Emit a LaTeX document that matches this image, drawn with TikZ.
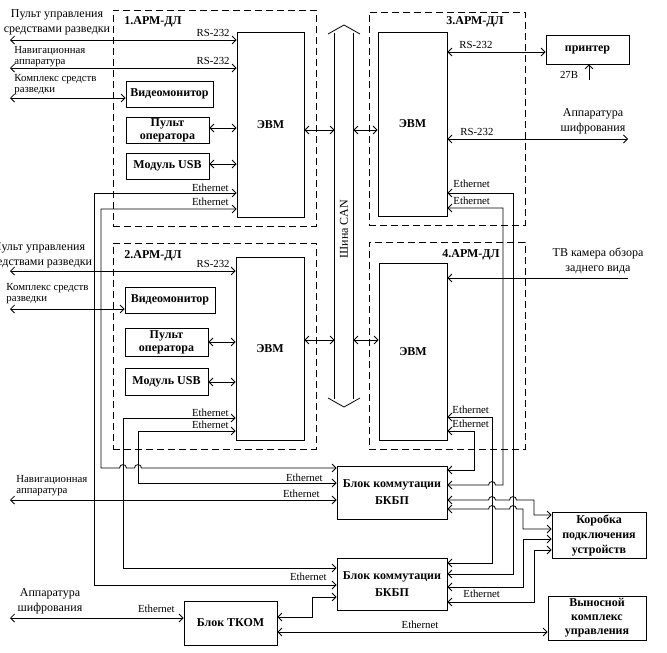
\documentclass[tikz,border=0pt]{standalone}
\usepackage{fontspec}
\setmainfont{Liberation Serif}
\usetikzlibrary{arrows.meta}
\begin{document}
\begin{tikzpicture}[x=1pt,y=-1pt, line width=0.8pt,
  >={Straight Barb[length=4pt,width=8pt]},
  bx/.style={draw, inner sep=0pt, align=center, font=\fontsize{12}{14}\selectfont\bfseries},
  arm/.style={draw, dash pattern=on 7pt off 4pt, inner sep=0pt},
  sm/.style={inner sep=0pt, align=left, font=\fontsize{10.8}{11}\selectfont},
  big/.style={inner sep=0pt, align=center, font=\fontsize{12}{15}\selectfont},
  ttl/.style={inner sep=0pt, font=\fontsize{12}{14}\selectfont\bfseries},
  lk/.style={<->}]
\useasboundingbox (0,0) rectangle (667,653);

% dashed workstation frames
\node[arm, minimum width=203pt, minimum height=216pt] (arm1) at (214.5,118) {};
\node[arm, minimum width=156pt, minimum height=213pt] (arm3) at (447,118.5) {};
\node[arm, minimum width=203pt, minimum height=206pt] (arm2) at (214.5,346) {};
\node[arm, minimum width=156pt, minimum height=207pt] (arm4) at (447,345.5) {};

\node[ttl] (t1) at (153,22) {1.АРМ-ДЛ};
\node[ttl] (t2) at (153,256) {2.АРМ-ДЛ};
\node[ttl] (t3) at (475,22) {3.АРМ-ДЛ};
\node[ttl] (t4) at (471,255) {4.АРМ-ДЛ};

% computers
\node[bx, minimum width=67pt, minimum height=185pt] (evm1) at (270.5,124.5) {ЭВМ};
\node[bx, minimum width=69pt, minimum height=184pt] (evm3) at (412.5,124) {ЭВМ};
\node[bx, minimum width=68pt, minimum height=183pt] (evm2) at (270,348.5) {ЭВМ};
\node[bx, minimum width=68pt, minimum height=177pt] (evm4) at (413,351.5) {ЭВМ};

% peripherals
\node[bx, minimum width=87pt, minimum height=26pt] (vm1) at (169.5,94) {Видеомонитор};
\node[bx, minimum width=83pt, minimum height=26pt, font=\fontsize{12}{13}\selectfont\bfseries] (po1) at (167.5,130) {Пульт\\оператора};
\node[bx, minimum width=83pt, minimum height=26pt] (usb1) at (167.5,166) {Модуль USB};
\node[bx, minimum width=90pt, minimum height=26pt] (vm2) at (170,300) {Видеомонитор};
\node[bx, minimum width=83pt, minimum height=28pt, font=\fontsize{12}{13}\selectfont\bfseries] (po2) at (166.5,342) {Пульт\\оператора};
\node[bx, minimum width=83pt, minimum height=27pt] (usb2) at (166.5,381.5) {Модуль USB};
\node[bx, minimum width=83pt, minimum height=29pt] (printer) at (587.5,49.5) {принтер};

\node[bx, minimum width=110pt, minimum height=53pt, font=\fontsize{12}{17}\selectfont\bfseries] (bk1) at (392,492.5) {Блок коммутации\\БКБП};
\node[bx, minimum width=110pt, minimum height=52pt, font=\fontsize{12}{17}\selectfont\bfseries] (bk2) at (392,584) {Блок коммутации\\БКБП};
\node[bx, minimum width=94pt, minimum height=46pt, font=\fontsize{12}{15}\selectfont\bfseries] (korobka) at (599,535) {Коробка\\подключения\\устройств};
\node[bx, minimum width=98pt, minimum height=44pt, font=\fontsize{12}{14}\selectfont\bfseries] (vynos) at (597,618) {Выносной\\комплекс\\управления};
\node[bx, minimum width=93pt, minimum height=44pt] (tkom) at (230.5,623) {Блок ТКОМ};

% CAN bus
\node[minimum width=18pt, minimum height=366pt, inner sep=0pt] (bus) at (344,216) {};
\draw (bus.north west) -- (bus.south west);
\draw (bus.north east) -- (bus.south east);
\draw (328,34) -- (344,25) -- (360,34);
\draw (328,398) -- (344,407) -- (360,398);
\node[rotate=90, inner sep=0pt, font=\fontsize{12}{14}\selectfont] (bustxt) at (344,229) {Шина CAN};

\draw[lk] (evm1.east |- 0,130) -- (bus.west |- 0,130);
\draw[lk] (bus.east |- 0,130) -- (evm3.west |- 0,130);
\draw[lk] (evm2.east |- 0,340) -- (bus.west |- 0,340);
\draw[lk] (bus.east |- 0,340) -- (evm4.west |- 0,340);

% external free ends
\coordinate (L1) at (10,40);
\coordinate (L2) at (10,68);
\coordinate (L3) at (10,98);
\coordinate (L4) at (10,271);
\coordinate (L5) at (10,309);
\coordinate (L6) at (10,500);
\coordinate (L7) at (10,618);
\coordinate (R1) at (628,139);
\coordinate (R2) at (628,278);
\coordinate (P27) at (589,80);

% workstation 1
\node[big] (txt1) at (57,22) {Пульт управления\\средствами разведки};
\draw[lk] (L1) -- (evm1.west |- L1);
\node[sm, anchor=base east] (rs1) at (230,36) {RS-232};
\node[sm, anchor=west] (txt2) at (14,57) {Навигационная\\аппаратура};
\draw[lk] (L2) -- (evm1.west |- L2);
\node[sm, anchor=base east] (rs2) at (230,64) {RS-232};
\node[sm, anchor=west] (txt3) at (14,85) {Комплекс средств\\разведки};
\draw[lk] (L3) -- (vm1.west |- L3);
\draw[lk] (po1.east |- 0,128) -- (evm1.west |- 0,128);
\draw[lk] (usb1.east |- 0,164) -- (evm1.west |- 0,164);
\node[sm, anchor=base east] (e1) at (229,191) {Ethernet};
\node[sm, anchor=base east] (e2) at (229,205) {Ethernet};

% workstation 2
\node[big] (txt4) at (39,255) {Пульт управления\\средствами разведки};
\draw[lk] (L4) -- (evm2.west |- L4);
\node[sm, anchor=base east] (rs3) at (230,267) {RS-232};
\node[sm, anchor=west] (txt5) at (6,294) {Комплекс средств\\разведки};
\draw[lk] (L5) -- (vm2.west |- L5);
\draw[lk] (po2.east |- 0,342) -- (evm2.west |- 0,342);
\draw[lk] (usb2.east |- 0,382) -- (evm2.west |- 0,382);
\node[sm, anchor=base east] (e3) at (229,416) {Ethernet};
\node[sm, anchor=base east] (e4) at (229,428) {Ethernet};

% workstation 3
\draw[lk] (evm3.east |- 0,52) -- (printer.west |- 0,52);
\node[sm, anchor=base west] (rs4) at (459,48) {RS-232};
\node[sm] (v27) at (569,75) {27В};
\draw[->] (P27) -- (printer.south -| P27);
\node[big] (txt6) at (593,121) {Аппаратура\\шифрования};
\draw[lk] (evm3.east |- R1) -- (R1);
\node[sm, anchor=base west] (rs5) at (460,135) {RS-232};
\node[sm, anchor=base west] (e5) at (453,187) {Ethernet};
\node[sm, anchor=base west] (e6) at (453,204) {Ethernet};

% workstation 4
\node[big] (txt7) at (598,261) {ТВ камера обзора\\заднего вида};
\draw[->] (R2) -- (evm4.east |- R2);
\node[sm, anchor=base west] (e7) at (452,413) {Ethernet};
\node[sm, anchor=base west] (e8) at (452,427) {Ethernet};

% Ethernet routes, left side
\draw[lk] (evm1.west |- 0,193) -- (94,193) -- (94,585) -- (bk2.west |- 0,585);
\draw[lk] (evm1.west |- 0,209) -- (101,209) -- (101,468) -- (119.5,468)
  .. controls (119.5,463.5) and (126.5,463.5) .. (126.5,468) -- (134.5,468)
  .. controls (134.5,463.5) and (141.5,463.5) .. (141.5,468) -- (bk1.west |- 0,468);
\draw[lk] (evm2.west |- 0,418) -- (123,418) -- (123,568) -- (bk2.west |- 0,568);
\draw[lk] (evm2.west |- 0,431) -- (138,431) -- (138,483) -- (bk1.west |- 0,483);
\node[sm, anchor=base east] (e9) at (323,481) {Ethernet};

\node[sm, anchor=west] (txt8) at (16,486) {Навигационная\\аппаратура};
\draw[lk] (L6) -- (bk1.west |- L6);
\node[sm, anchor=base east] (e10) at (320,497) {Ethernet};
\node[sm, anchor=base east] (e11) at (327,580) {Ethernet};

% Ethernet routes, right side
\draw[lk] (evm3.east |- 0,193) -- (513,193) -- (513,574) -- (bk2.east |- 0,574);
\draw[lk] (evm3.east |- 0,208) -- (503,208) -- (503,485) -- (495.5,485)
  .. controls (495.5,480.5) and (488.5,480.5) .. (488.5,485) -- (bk1.east |- 0,485);
\draw[lk] (evm4.east |- 0,417) -- (492,417) -- (492,563) -- (bk2.east |- 0,563);
\draw[lk] (evm4.east |- 0,431) -- (474,431) -- (474,470) -- (bk1.east |- 0,470);

% to the connection box
\draw[lk] (bk1.east |- 0,500) -- (488.5,500)
  .. controls (488.5,495.5) and (495.5,495.5) .. (495.5,500) -- (509.5,500)
  .. controls (509.5,495.5) and (516.5,495.5) .. (516.5,500) -- (534,500) -- (534,515) -- (korobka.west |- 0,515);
\draw[lk] (bk1.east |- 0,509) -- (488.5,509)
  .. controls (488.5,504.5) and (495.5,504.5) .. (495.5,509) -- (509.5,509)
  .. controls (509.5,504.5) and (516.5,504.5) .. (516.5,509) -- (523,509) -- (523,529) -- (korobka.west |- 0,529);
\draw[lk] (bk2.east |- 0,587) -- (523,587) -- (523,539) -- (korobka.west |- 0,539);
\draw[lk] (bk2.east |- 0,602) -- (534,602) -- (534,550) -- (korobka.west |- 0,550);
\node[sm, anchor=base west] (e12) at (463,597) {Ethernet};

% TKOM
\node[big] (txt9) at (50,601) {Аппаратура\\шифрования};
\draw[lk] (L7) -- (tkom.west |- L7);
\node[sm, anchor=base east] (e13) at (175,612) {Ethernet};
\draw[lk] (tkom.east |- 0,617) -- (312,617) -- (312,597) -- (bk2.west |- 0,597);
\draw[lk] (tkom.east |- 0,632) -- (vynos.west |- 0,632);
\node[sm, anchor=base] (e14) at (420,628) {Ethernet};
\end{tikzpicture}
\end{document}
